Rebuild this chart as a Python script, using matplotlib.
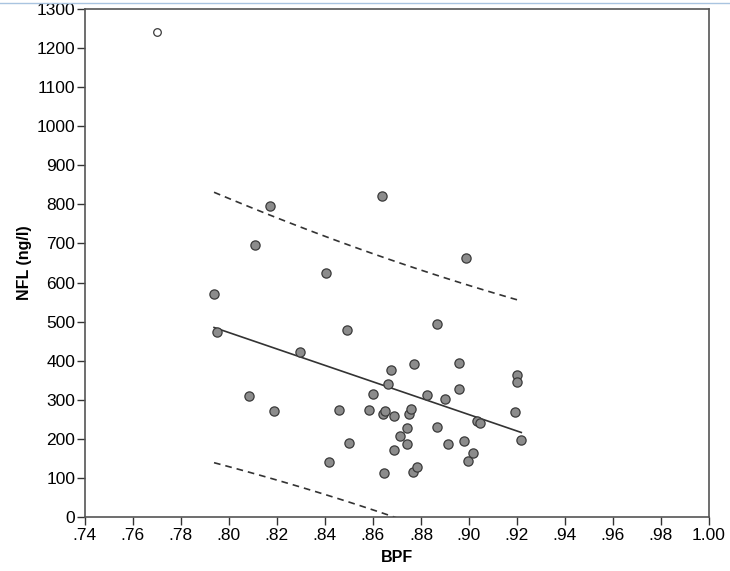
import numpy as np
import matplotlib
matplotlib.use("Agg")
import matplotlib.pyplot as plt
from matplotlib.ticker import FuncFormatter

plt.rcParams['font.family'] = ['Liberation Sans', 'DejaVu Sans']

# BPF vs NFL
bpf = [0.7938, 0.7951, 0.8084, 0.8108, 0.8173, 0.8188, 0.8298, 0.8404, 0.8417, 0.8460,
       0.8492, 0.8499, 0.8584, 0.8599, 0.8639, 0.8643, 0.8652, 0.8645, 0.8661, 0.8674,
       0.8689, 0.8711, 0.8686, 0.8742, 0.8741, 0.8751, 0.8759, 0.8771, 0.8767, 0.8782,
       0.8824, 0.8867, 0.8867, 0.8902, 0.8913, 0.8957, 0.8957, 0.8988, 0.8978, 0.8997,
       0.9015, 0.9034, 0.9047, 0.9199, 0.9201, 0.9193, 0.9218]
nfl = [571, 474, 308, 695, 797, 272, 422, 625, 139, 274,
       479, 190, 273, 315, 822, 263, 270, 113, 341, 376,
       259, 208, 172, 226, 187, 262, 275, 391, 114, 127,
       311, 493, 231, 301, 185, 395, 328, 663, 195, 143,
       164, 245, 239, 364, 345, 269, 197]

# outlier excluded from the fit (open circle)
outlier_bpf = [0.7699]
outlier_nfl = [1241]

x = np.array(bpf)
y = np.array(nfl)
n = len(x)

# linear fit with 95% prediction interval
slope, intercept = np.polyfit(x, y, 1)
xs = np.linspace(x.min(), x.max(), 100)
fit = intercept + slope * xs
resid = y - (intercept + slope * x)
s = np.sqrt(np.sum(resid ** 2) / (n - 2))
t = 2.014  # t(0.975, 45)
sxx = np.sum((x - x.mean()) ** 2)
half = t * s * np.sqrt(1 + 1 / n + (xs - x.mean()) ** 2 / sxx)

fig = plt.figure(figsize=(7.3, 5.71), dpi=100)
ax = fig.add_axes([0.1163, 0.0951, 0.9712 - 0.1163, 0.9837 - 0.0951])

ax.plot(xs, fit, color='#333333', lw=1.2)
ax.plot(xs, fit + half, color='#333333', lw=1.2, ls=(0, (4, 3)))
ax.plot(xs, fit - half, color='#333333', lw=1.2, ls=(0, (4, 3)))

ax.scatter(x, y, s=44, facecolor='#8c8c8c', edgecolor='#3a3a3a', lw=0.9, zorder=3)
ax.scatter(outlier_bpf, outlier_nfl, s=30, facecolor='white', edgecolor='#3a3a3a', lw=0.9, zorder=3)

ax.set_xlim(0.74, 1.00)
ax.set_ylim(0, 1300)
ax.set_xticks(np.arange(0.74, 1.001, 0.02))
ax.set_yticks(np.arange(0, 1301, 100))


def fmt_x(v, pos):
    txt = f"{v:.2f}"
    return txt[1:] if txt.startswith("0") else txt


ax.xaxis.set_major_formatter(FuncFormatter(fmt_x))
ax.tick_params(labelsize=12.5, length=6, width=1, color='#333333', direction='out')
ax.tick_params(axis='x', pad=2)
ax.tick_params(axis='y', pad=1)
for sp in ax.spines.values():
    sp.set_color('#555555')
    sp.set_linewidth(1.2)

ax.set_xlabel('BPF', fontsize=11.5, fontweight='bold', labelpad=5)
ax.set_ylabel('NFL (ng/l)', fontsize=11.5, fontweight='bold', labelpad=3)

# thin blue line along the very top of the screenshot
fig.add_artist(plt.Line2D([0, 1], [0.995, 0.995], transform=fig.transFigure,
                          color='#a9c4e0', lw=1))

fig.savefig('out.png', dpi=100)
